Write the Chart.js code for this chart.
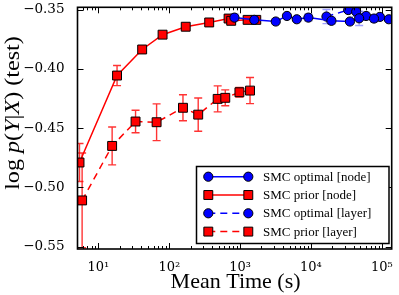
<!DOCTYPE html>
<html><head><meta charset="utf-8">
<script src="https://cdn.jsdelivr.net/npm/chart.js@4.4.0/dist/chart.umd.min.js"></script>
<style>html,body{margin:0;padding:0;background:#fff;}</style>
</head><body>
<canvas id="c" width="399" height="295" style="display:block;width:399px;height:295px"></canvas>
<script>
// ---- data ----
const xTickValues = [10, 100, 1000, 10000, 100000];
const xTickLabels = ['10\u00B9', '10\u00B2', '10\u00B3', '10\u2074', '10\u2075'];
const yTickValues = [-0.55, -0.50, -0.45, -0.40, -0.35];
const yTickLabels = ['\u22120.55', '\u22120.50', '\u22120.45', '\u22120.40', '\u22120.35'];
const seriesNames = ['SMC optimal [node]', 'SMC prior [node]', 'SMC optimal [layer]', 'SMC prior [layer]'];

const optNodeTime = [832, 1585, 3184, 4580, 6310, 9200, 19450, 35500, 47900, 77600, 125700];
const optNodeLL   = [-0.3567, -0.3586, -0.3600, -0.3553, -0.3581, -0.3567, -0.3594, -0.3600, -0.3573, -0.3575, -0.3581];
const optNodeErr  = [0.003, 0.003, 0.002, 0.002, 0.002, 0.003, 0.003, 0.002, 0.006, 0.003, 0.002];

const priorNodeTime = [5.4, 18.3, 41.4, 80.4, 170.6, 366, 687, 748, 1276, 1690];
const priorNodeLL   = [-0.479, -0.4056, -0.3836, -0.3711, -0.3644, -0.3608, -0.3575, -0.3594, -0.3586, -0.3586];
const priorNodeErr  = [0.016, 0.0085, 0.002, 0.002, 0.002, 0.002, 0.003, 0.002, 0.002, 0.002];

const optLayerTime = [16560, 33600, 43500, 60000, 94000];
const optLayerLL   = [-0.3558, -0.3503, -0.3517, -0.3553, -0.3561];
const optLayerErr  = [0.006, 0.002, 0.004, 0.003, 0.002];

const priorLayerTime = [5.88, 15.6, 33.4, 66.2, 156, 256, 482, 617, 977, 1380];
const priorLayerLL   = [-0.511, -0.465, -0.4444, -0.445, -0.4328, -0.4386, -0.4253, -0.4244, -0.4197, -0.4183];
const priorLayerErr  = [0.04, 0.016, 0.0095, 0.0155, 0.011, 0.014, 0.011, 0.0067, 0.004, 0.011];

const pts = (xs, ys) => xs.map((x, i) => ({x: x, y: ys[i]}));

function mkDataset(name, xs, ys, errs, color, errColor, style, dashed, radius) {
  return {
    label: name, data: pts(xs, ys), errors: errs, errColor: errColor,
    borderColor: color, borderWidth: 1.5, borderDash: dashed ? [7, 5] : [],
    pointStyle: style, pointRadius: radius, pointHoverRadius: radius,
    pointBackgroundColor: color, pointBorderColor: '#000', pointBorderWidth: 1,
    fill: false, tension: 0, clip: 0
  };
}

const datasets = [
  mkDataset(seriesNames[0], optNodeTime, optNodeLL, optNodeErr, '#0000ff', 'rgba(80,80,255,0.55)', 'circle', false, 4.6),
  mkDataset(seriesNames[2], optLayerTime, optLayerLL, optLayerErr, '#0000ff', 'rgba(80,80,255,0.55)', 'circle', true, 4.6),
  mkDataset(seriesNames[1], priorNodeTime, priorNodeLL, priorNodeErr, '#ff0000', 'rgba(255,0,0,0.8)', 'rect', false, 6.3),
  mkDataset(seriesNames[3], priorLayerTime, priorLayerLL, priorLayerErr, '#ff0000', 'rgba(255,0,0,0.8)', 'rect', true, 6.3)
];
const legendOrder = [0, 2, 1, 3];

// ---- plugins ----
const errorBars = {
  id: 'errorBars',
  beforeDatasetsDraw(chart) {
    const ctx = chart.ctx, a = chart.chartArea;
    const xs = chart.scales.x, ys = chart.scales.y;
    ctx.save();
    ctx.beginPath(); ctx.rect(a.left, a.top, a.right - a.left, a.bottom - a.top); ctx.clip();
    chart.data.datasets.forEach(ds => {
      ctx.strokeStyle = ds.errColor; ctx.lineWidth = 1.4; ctx.setLineDash([]);
      ds.data.forEach((p, i) => {
        const e = ds.errors[i];
        const px = xs.getPixelForValue(p.x);
        const y1 = ys.getPixelForValue(p.y + e), y2 = ys.getPixelForValue(p.y - e);
        ctx.beginPath();
        ctx.moveTo(px, y1); ctx.lineTo(px, y2);
        ctx.moveTo(px - 4, y1); ctx.lineTo(px + 4, y1);
        ctx.moveTo(px - 4, y2); ctx.lineTo(px + 4, y2);
        ctx.stroke();
      });
    });
    ctx.restore();
  }
};

const frameTicks = {
  id: 'frameTicks',
  afterDatasetsDraw(chart) {
    const ctx = chart.ctx, a = chart.chartArea;
    const xs = chart.scales.x, ys = chart.scales.y;
    ctx.save();
    ctx.strokeStyle = '#000'; ctx.lineWidth = 1; ctx.setLineDash([]);
    ctx.beginPath();
    for (let d = 0; d <= 5; d++) {
      for (let k = 1; k <= 9; k++) {
        const v = k * Math.pow(10, d);
        if (v < xs.min || v > xs.max) continue;
        const px = Math.round(xs.getPixelForValue(v)) + 0.5;
        const len = k === 1 ? 6 : 3;
        ctx.moveTo(px, a.bottom); ctx.lineTo(px, a.bottom - len);
        ctx.moveTo(px, a.top); ctx.lineTo(px, a.top + len);
      }
    }
    yTickValues.forEach(v => {
      const py = Math.round(ys.getPixelForValue(v)) + 0.5;
      ctx.moveTo(a.left, py); ctx.lineTo(a.left + 6, py);
      ctx.moveTo(a.right, py); ctx.lineTo(a.right - 6, py);
    });
    ctx.stroke();
    ctx.lineWidth = 1.6;
    ctx.strokeRect(a.left, a.top, a.right - a.left, a.bottom - a.top);
    ctx.restore();
  }
};

const customLegend = {
  id: 'customLegend',
  afterDraw(chart) {
    const ctx = chart.ctx;
    const bx = 196.5, by = 166.5, bw = 192.5, bh = 77;
    ctx.save();
    ctx.fillStyle = '#fff'; ctx.fillRect(bx, by, bw, bh);
    ctx.strokeStyle = '#000'; ctx.lineWidth = 1.5; ctx.strokeRect(bx, by, bw, bh);
    ctx.font = '13px "Liberation Serif"';
    ctx.textBaseline = 'middle'; ctx.textAlign = 'left';
    legendOrder.forEach((di, row) => {
      const ds = chart.data.datasets[di];
      const y = 176.7 + row * 18.3;
      const x1 = 208.3, x2 = 248.3;
      ctx.strokeStyle = ds.borderColor; ctx.lineWidth = 1.5;
      ctx.setLineDash(ds.borderDash);
      ctx.beginPath(); ctx.moveTo(x1, y); ctx.lineTo(x2, y); ctx.stroke();
      ctx.setLineDash([]);
      ctx.fillStyle = ds.pointBackgroundColor; ctx.strokeStyle = ds.pointBorderColor; ctx.lineWidth = 1;
      [x1, x2].forEach(x => Chart.helpers.drawPoint(ctx, {pointStyle: ds.pointStyle, radius: ds.pointRadius, rotation: 0, borderWidth: 1}, x, y));
      ctx.fillStyle = '#000';
      ctx.fillText(ds.label, 263, y + 0.5);
    });
    ctx.restore();
  }
};

const yTitle = {
  id: 'yTitle',
  afterDraw(chart) {
    const ctx = chart.ctx;
    const segs = [['log ', false], ['p', true], ['(', false], ['Y', true], ['|', false], ['X', true], [') (test)', false]];
    const size = 21;
    const fontOf = it => (it ? 'italic ' : '') + size + 'px "Liberation Serif"';
    ctx.save();
    let total = 0;
    segs.forEach(s => { ctx.font = fontOf(s[1]); total += ctx.measureText(s[0]).width; });
    ctx.translate(13, 113);
    ctx.rotate(-Math.PI / 2);
    ctx.scale(1.15, 1);
    ctx.fillStyle = '#000'; ctx.textBaseline = 'middle'; ctx.textAlign = 'left';
    let x = -total / 2;
    segs.forEach(s => { ctx.font = fontOf(s[1]); ctx.fillText(s[0], x, 0); x += ctx.measureText(s[0]).width; });
    ctx.restore();
  }
};

const xTitle = {
  id: 'xTitle',
  afterDraw(chart) {
    const ctx = chart.ctx, a = chart.chartArea;
    ctx.save();
    ctx.font = '22px "Liberation Serif"';
    ctx.fillStyle = '#000'; ctx.textAlign = 'center'; ctx.textBaseline = 'middle';
    ctx.fillText('Mean Time (s)', (a.left + a.right) / 2 + 1, 282);
    ctx.restore();
  }
};

new Chart(document.getElementById('c'), {
  type: 'line',
  data: { datasets: datasets },
  options: {
    responsive: false, animation: false, devicePixelRatio: 1,
    layout: { padding: { top: 5, right: 5, left: 0, bottom: 0 } },
    plugins: { legend: { display: false }, tooltip: { enabled: false } },
    scales: {
      x: {
        type: 'logarithmic', min: 5.06, max: 138000,
        grid: { display: false }, border: { display: false },
        afterBuildTicks: s => { s.ticks = xTickValues.map(v => ({ value: v, major: true })); },
        ticks: { callback: v => xTickLabels[xTickValues.indexOf(v)], font: { family: 'DejaVu Serif', size: 13 }, color: '#000', padding: 3, maxRotation: 0, autoSkip: false },
        afterFit: s => { s.height = 46; s.paddingLeft = 0; s.paddingRight = 0; }
      },
      y: {
        type: 'linear', min: -0.552, max: -0.348,
        grid: { display: false }, border: { display: false },
        afterBuildTicks: s => { s.ticks = yTickValues.map(v => ({ value: v })); },
        ticks: { callback: v => yTickLabels[yTickValues.findIndex(t => Math.abs(t - v) < 1e-9)], font: { family: 'DejaVu Serif', size: 13.5 }, color: '#000', padding: 5 },
        afterFit: s => { s.width = 77.5; s.paddingTop = 0; s.paddingBottom = 0; }
      }
    }
  },
  plugins: [errorBars, frameTicks, customLegend, yTitle, xTitle]
});
</script>
</body></html>
